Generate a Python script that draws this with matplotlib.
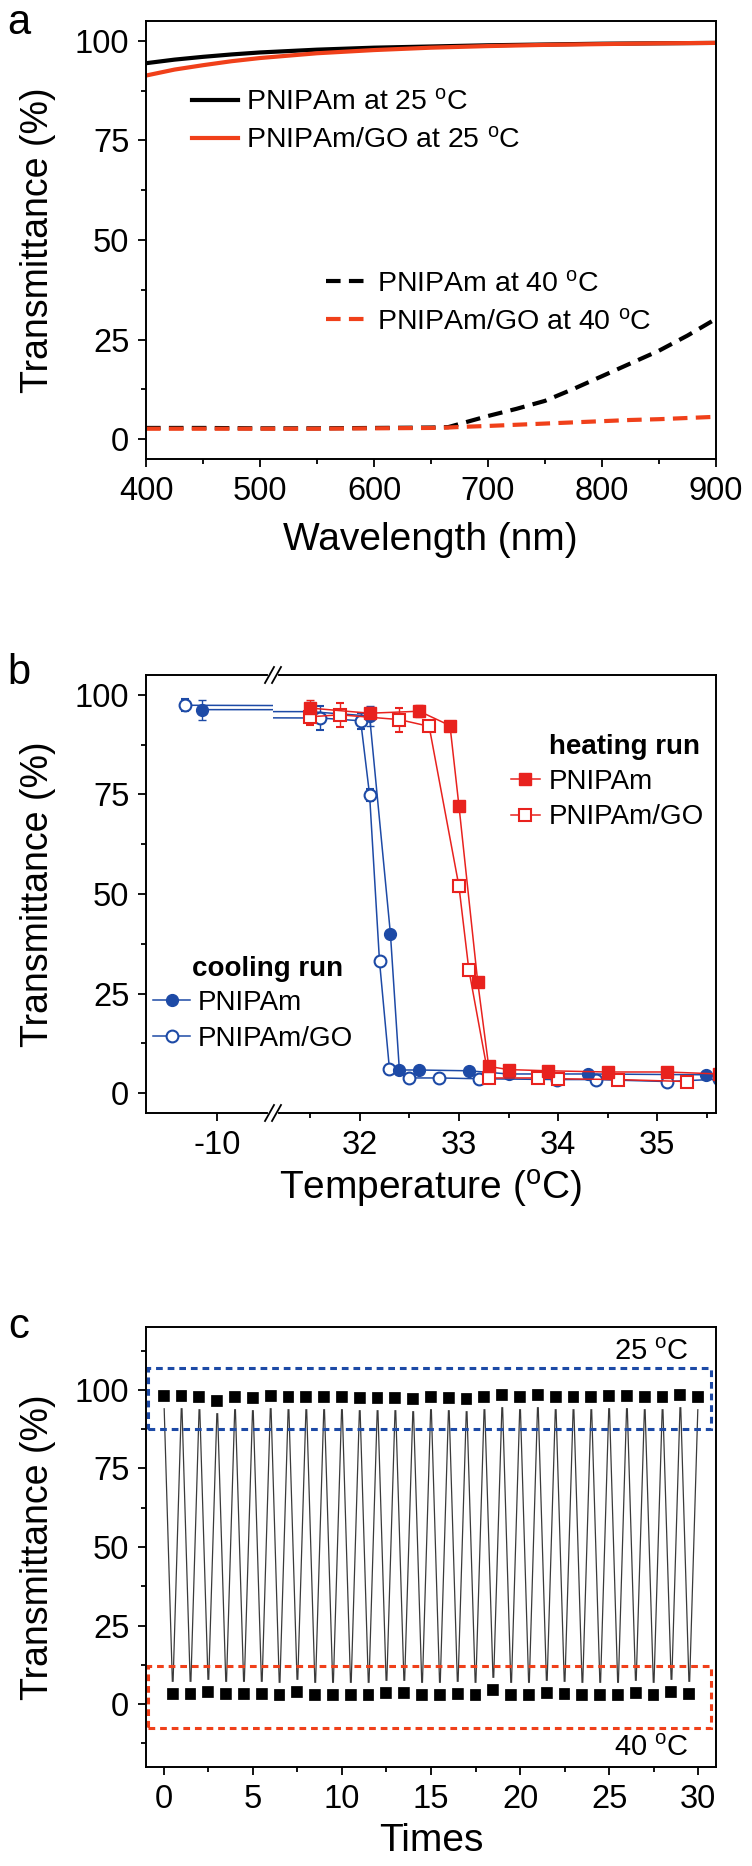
import numpy as np
import matplotlib
matplotlib.use('Agg')
import matplotlib.pyplot as plt
from matplotlib.ticker import MultipleLocator, FixedLocator
from matplotlib.lines import Line2D
from matplotlib.patches import Rectangle

plt.rcParams['font.family'] = ['Liberation Sans', 'DejaVu Sans']
plt.rcParams['mathtext.fontset'] = 'custom'
plt.rcParams['mathtext.rm'] = 'Liberation Sans'
plt.rcParams['mathtext.it'] = 'Liberation Sans:italic'
plt.rcParams['mathtext.bf'] = 'Liberation Sans:bold'
plt.rcParams['axes.unicode_minus'] = False

DEG = r'$^{\mathrm{o}}$C'

# ---- panel a : spectra ----
wl_25 = [400, 425, 450, 475, 500, 550, 600, 650, 700, 750, 800, 850, 900]
pn_25 = [94.4, 95.3, 96.0, 96.6, 97.1, 97.8, 98.3, 98.6, 98.9, 99.1, 99.3, 99.4, 99.5]
go_25 = [91.3, 92.8, 93.9, 94.9, 95.7, 96.9, 97.7, 98.3, 98.7, 99.0, 99.2, 99.4, 99.5]
wl_40 = [400, 450, 500, 550, 600, 650, 665, 680, 700, 725, 750, 775, 800, 825, 850, 875, 900]
pn_40 = [2.8, 2.8, 2.7, 2.7, 2.8, 2.9, 3.0, 4.2, 5.8, 7.6, 9.6, 12.6, 15.8, 19.0, 22.2, 26.0, 30.2]
go_40 = [2.6, 2.6, 2.6, 2.6, 2.7, 2.8, 2.9, 3.1, 3.3, 3.6, 3.9, 4.2, 4.5, 4.8, 5.0, 5.3, 5.6]

# ---- panel b : temperature sweep ----
cool_pn_x = [-10.155, 31.50, 32.10, 32.31, 32.40, 32.60, 33.10, 33.50, 34.30, 35.49]
cool_pn_y = [96.3, 95.8, 94.7, 40.0, 5.8, 5.8, 5.6, 4.8, 4.8, 4.6]
cool_pn_e = [2.5, 2.5, 2.5, 0, 0, 0, 0, 0, 0, 0]
cool_go_x = [-10.325, 31.60, 32.01, 32.10, 32.20, 32.30, 32.50, 32.80, 33.20, 33.99, 34.38, 35.10, 35.62]
cool_go_y = [97.4, 94.2, 93.5, 74.9, 33.1, 6.1, 3.8, 3.8, 3.6, 3.4, 3.4, 2.9, 3.5]
cool_go_e = [1.5, 3.0, 2.0, 1.5, 1.0, 0, 0, 0, 0, 0, 0, 0, 0]
heat_pn_x = [31.50, 32.10, 32.60, 32.91, 33.00, 33.19, 33.30, 33.50, 33.90, 34.50, 35.10, 35.62]
heat_pn_y = [96.7, 95.4, 95.9, 92.3, 72.2, 27.8, 6.7, 5.9, 5.6, 5.3, 5.3, 4.8]
heat_pn_e = [2.0, 1.5, 1.5, 0, 0, 0, 0, 0, 0, 0, 0, 0]
heat_go_x = [31.50, 31.80, 32.40, 32.70, 33.00, 33.10, 33.30, 33.80, 34.00, 34.60, 35.30]
heat_go_y = [94.5, 95.0, 93.8, 92.1, 52.0, 31.0, 3.8, 3.8, 3.6, 3.4, 2.9]
heat_go_e = [2.0, 3.0, 3.0, 0, 1.5, 0, 0, 0, 0, 0, 0]

# ---- panel c : cycling ----
cyc_25_x = np.arange(0, 31)
cyc_25_y = [98.0, 98.0, 97.6, 96.6, 97.6, 97.3, 98.1, 97.8, 97.8, 97.6, 97.6, 97.3, 97.3, 97.3, 97.0, 97.6,
            97.3, 97.0, 97.6, 98.4, 97.8, 98.4, 97.8, 97.8, 97.6, 98.1, 98.1, 97.6, 97.8, 98.4, 97.7]
cyc_40_x = np.arange(0, 30) + 0.5
cyc_40_y = [3.2, 3.2, 3.8, 3.2, 3.2, 3.2, 3.0, 3.8, 2.9, 3.0, 3.0, 3.0, 3.5, 3.5, 3.0, 3.0,
            3.2, 3.0, 4.5, 2.9, 3.0, 3.4, 3.3, 3.0, 3.0, 3.0, 3.5, 3.0, 4.0, 3.2]

BLUE = '#1d4aa6'
RED = '#e8221e'
ORANGE = '#f0401a'

W, H = 752, 1866
fig = plt.figure(figsize=(W / 100, H / 100), dpi=100)


def box(l, t, r, b):
    return [l / W, 1 - b / H, (r - l) / W, (b - t) / H]


def style(ax):
    for s in ax.spines.values():
        s.set_linewidth(1.4)
    ax.tick_params(which='both', direction='out', top=False, right=False,
                   labelsize=23.5, width=1.3, pad=6)
    ax.tick_params(which='major', length=6)
    ax.tick_params(which='minor', length=3.5)


ax_a = fig.add_axes(box(146, 21, 716, 459))
ax_bl = fig.add_axes(box(146, 675, 273, 1113))
ax_br = fig.add_axes(box(273, 675, 716, 1113))
ax_c = fig.add_axes(box(146, 1327, 716, 1767))

# panel a
style(ax_a)
l1, = ax_a.plot(wl_25, pn_25, '-', color='black', lw=3, label='PNIPAm at 25 ' + DEG)
l2, = ax_a.plot(wl_25, go_25, '-', color=ORANGE, lw=3, label='PNIPAm/GO at 25 ' + DEG)
l3, = ax_a.plot(wl_40, pn_40, color='black', lw=3, ls=(0, (3.5, 2)), label='PNIPAm at 40 ' + DEG)
l4, = ax_a.plot(wl_40, go_40, color=ORANGE, lw=3, ls=(0, (3.5, 2)), label='PNIPAm/GO at 40 ' + DEG)
ax_a.set_xlim(400, 900)
ax_a.set_ylim(-5, 105)
ax_a.xaxis.set_major_locator(MultipleLocator(100))
ax_a.xaxis.set_minor_locator(MultipleLocator(50))
ax_a.yaxis.set_major_locator(MultipleLocator(25))
ax_a.yaxis.set_minor_locator(MultipleLocator(12.5))
leg1 = ax_a.legend(handles=[l1, l2], loc='center left', bbox_to_anchor=(0.0807, 0.7705),
                   frameon=False, fontsize=20.5, handlelength=1.6, handletextpad=0.3,
                   labelspacing=0.42, borderpad=0, borderaxespad=0)
ax_a.add_artist(leg1)
ax_a.legend(handles=[l3, l4], loc='center left', bbox_to_anchor=(0.3158, 0.3555),
            frameon=False, fontsize=20.5, handlelength=1.5, handletextpad=0.3,
            labelspacing=0.42, borderpad=0, borderaxespad=0)

# panel b (broken x axis)
for ax in (ax_bl, ax_br):
    style(ax)
    ax.errorbar(cool_go_x, cool_go_y, yerr=cool_go_e, fmt='-o', color=BLUE, mfc='white',
                mew=1.5, ms=8.5, lw=1.1, elinewidth=1, capsize=3)
    ax.errorbar(cool_pn_x, cool_pn_y, yerr=cool_pn_e, fmt='-o', color=BLUE,
                ms=8.5, lw=1.1, elinewidth=1, capsize=3)
    ax.errorbar(heat_go_x, heat_go_y, yerr=heat_go_e, fmt='-s', color=RED, mfc='white',
                mew=1.5, ms=8.5, lw=1.1, elinewidth=1, capsize=3)
    ax.errorbar(heat_pn_x, heat_pn_y, yerr=heat_pn_e, fmt='-s', color=RED,
                ms=8.5, lw=1.1, elinewidth=1, capsize=3)
    ax.set_ylim(-5, 105)
    ax.yaxis.set_major_locator(MultipleLocator(25))
    ax.yaxis.set_minor_locator(MultipleLocator(12.5))

ax_bl.set_xlim(-10.724, -9.427)
ax_bl.xaxis.set_major_locator(FixedLocator([-10]))
ax_bl.xaxis.set_minor_locator(FixedLocator([]))
ax_bl.spines['right'].set_visible(False)
ax_br.set_xlim(31.127, 35.59)
ax_br.xaxis.set_major_locator(MultipleLocator(1))
ax_br.xaxis.set_minor_locator(MultipleLocator(0.5))
ax_br.spines['left'].set_visible(False)
ax_br.tick_params(axis='y', which='both', left=False, labelleft=False)

h_hpn = Line2D([], [], color=RED, marker='s', ms=8.5, lw=1.1)
h_hgo = Line2D([], [], color=RED, marker='s', ms=8.5, lw=1.1, mfc='white', mew=1.5)
h_cpn = Line2D([], [], color=BLUE, marker='o', ms=8.5, lw=1.1)
h_cgo = Line2D([], [], color=BLUE, marker='o', ms=8.5, lw=1.1, mfc='white', mew=1.5)
leg_h = ax_br.legend(handles=[h_hpn, h_hgo], labels=['PNIPAm', 'PNIPAm/GO'], loc='center left',
                     bbox_to_anchor=(0.537, 0.7158), frameon=False, fontsize=20, handlelength=1.05,
                     handletextpad=0.3, labelspacing=0.35, borderpad=0, borderaxespad=0, numpoints=1)
ax_br.add_artist(leg_h)
ax_br.legend(handles=[h_cpn, h_cgo], labels=['PNIPAm', 'PNIPAm/GO'], loc='center left',
             bbox_to_anchor=(-0.2698, 0.2103), frameon=False, fontsize=20, handlelength=1.3,
             handletextpad=0.3, labelspacing=0.35, borderpad=0, borderaxespad=0, numpoints=1)
ax_br.text(0.623, 0.8356, 'heating run', transform=ax_br.transAxes, fontsize=20,
           fontweight='bold', ha='left', va='center')
ax_br.text(-0.1828, 0.3288, 'cooling run', transform=ax_br.transAxes, fontsize=20,
           fontweight='bold', ha='left', va='center')

# break marks
for yb in (675, 1113):
    xf, yf = 273 / W, 1 - yb / H
    fig.add_artist(Line2D([xf - 3 / W, xf + 3 / W], [yf, yf], color='white', lw=3,
                          transform=fig.transFigure))
    for dx in (-3.5, 3.5):
        fig.add_artist(Line2D([xf + (dx - 4.5) / W, xf + (dx + 4.5) / W],
                              [yf - 8 / H, yf + 8 / H], color='black', lw=1.3,
                              transform=fig.transFigure))

# panel c
style(ax_c)
zx = np.empty(len(cyc_25_x) + len(cyc_40_x))
zy = np.empty_like(zx)
zx[0::2], zy[0::2] = cyc_25_x, cyc_25_y
zx[1::2], zy[1::2] = cyc_40_x, cyc_40_y
ax_c.plot(zx, zy, '-', color='#3a3a3a', lw=0.9, zorder=2)
ax_c.plot(zx, zy, 's', color='black', ms=13, mec='white', mew=4.5, zorder=3)
ax_c.add_patch(Rectangle((-0.9, 87.5), 31.6, 19.3, fill=False, ec=BLUE, lw=2.2,
                         ls=(0, (2.2, 1.6)), zorder=4))
ax_c.add_patch(Rectangle((-0.9, -7.5), 31.6, 19.6, fill=False, ec=ORANGE, lw=2.2,
                         ls=(0, (2.2, 1.6)), zorder=4))
ax_c.text(29.45, 112.2, '25 ' + DEG, fontsize=21, ha='right', va='center')
ax_c.text(29.45, -14, '40 ' + DEG, fontsize=21, ha='right', va='center')
ax_c.set_xlim(-1, 31)
ax_c.set_ylim(-20, 120)
ax_c.xaxis.set_major_locator(MultipleLocator(5))
ax_c.xaxis.set_minor_locator(MultipleLocator(2.5))
ax_c.yaxis.set_major_locator(MultipleLocator(25))
ax_c.yaxis.set_minor_locator(MultipleLocator(12.5))
ax_c.set_yticks([0, 25, 50, 75, 100])

# axis titles and panel letters
fig.text(430 / W, 1 - 540 / H, 'Wavelength (nm)', fontsize=28, ha='center', va='center')
fig.text(431 / W, 1 - 1189 / H, 'Temperature (' + DEG + ')', fontsize=28, ha='center', va='center')
fig.text(431 / W, 1 - 1841 / H, 'Times', fontsize=28, ha='center', va='center')
for yc in (240, 894, 1547):
    fig.text(38 / W, 1 - yc / H, 'Transmittance (%)', fontsize=27, rotation=90,
             ha='center', va='center')
for lab, yc in (('a', 23), ('b', 673), ('c', 1327)):
    fig.text(19 / W, 1 - yc / H, lab, fontsize=30, ha='center', va='center')

fig.savefig('out.png', dpi=100)
